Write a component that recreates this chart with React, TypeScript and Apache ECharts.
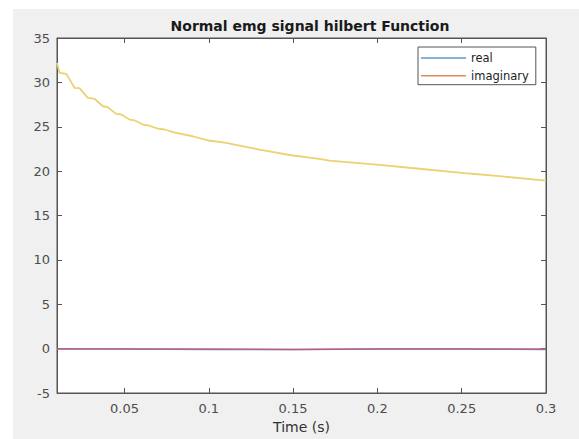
import React, { useEffect, useRef } from "react";
import * as echarts from "echarts";

// ---- data ----
const magTime = [0.0100, 0.0115, 0.0155, 0.0204, 0.0233, 0.0283, 0.0322, 0.0372, 0.0401, 0.0451, 0.0481, 0.0530, 0.0559, 0.0609, 0.0638, 0.0698, 0.0737, 0.0800, 0.0905, 0.1000, 0.1103, 0.1162, 0.1300, 0.1498, 0.1656, 0.1715, 0.2012, 0.2190, 0.2544, 0.2723, 0.3000];
const magValues = [32.2, 31.07, 30.96, 29.39, 29.35, 28.26, 28.15, 27.31, 27.20, 26.45, 26.38, 25.81, 25.73, 25.25, 25.17, 24.80, 24.69, 24.35, 23.93, 23.45, 23.19, 22.95, 22.43, 21.76, 21.39, 21.19, 20.71, 20.38, 19.73, 19.43, 18.92];

const partTime = [0.01, 0.05, 0.1, 0.15, 0.2, 0.25, 0.3];
const realValues = [-0.05, -0.05, -0.1, -0.1, -0.05, -0.05, -0.1];
const imagValues = [-0.02, -0.05, -0.05, -0.1, -0.05, -0.05, -0.05];

const xTicks = [0.05, 0.1, 0.15, 0.2, 0.25, 0.3];
const seriesNames = ["real", "imaginary"];
const titleText = "Normal emg signal hilbert Function";
const xLabel = "Time (s)";

const FONT = "DejaVu Sans, Liberation Sans, Arial, sans-serif";

export default function App() {
  const ref = useRef<HTMLDivElement>(null);
  useEffect(() => {
    if (!ref.current) return;
    const chart = echarts.init(ref.current, null, { renderer: "svg" });
    const pair = (ts: number[], vs: number[]) => ts.map((t, i) => [t, vs[i]]);
    const axisLineStyle = { color: "#555", width: 1 };
    const xBase = {
      type: "value",
      min: 0.01,
      max: 0.3,
      splitLine: { show: false },
      axisLine: { show: true, onZero: false, lineStyle: axisLineStyle },
      axisTick: { show: true, inside: true, length: 5, customValues: xTicks, lineStyle: axisLineStyle },
    };
    const yBase = {
      type: "value",
      min: -5,
      max: 35,
      interval: 5,
      splitLine: { show: false },
      axisLine: { show: true, onZero: false, lineStyle: axisLineStyle },
      axisTick: { show: true, inside: true, length: 5, lineStyle: axisLineStyle },
    };
    chart.setOption({
      animation: false,
      backgroundColor: "#ffffff",
      textStyle: { fontFamily: FONT },
      title: {
        text: titleText,
        left: 305,
        top: 14,
        textAlign: "center",
        textStyle: { fontFamily: FONT, fontSize: 14, fontWeight: "bold", color: "#1a1a1a" },
      },
      graphic: [
        {
          type: "rect",
          z: -100,
          shape: { x: 13, y: 9, width: 566, height: 430 },
          style: { fill: "#f0f0f0" },
          silent: true,
        },
      ],
      grid: {
        left: 57,
        top: 38,
        width: 489,
        height: 355,
        show: true,
        backgroundColor: "#ffffff",
        borderColor: "#555",
        borderWidth: 1,
        containLabel: false,
        outerBoundsMode: "none",
      },
      legend: {
        data: seriesNames,
        orient: "vertical",
        left: 418,
        top: 47,
        padding: [4, 7, 2, 3],
        itemGap: 3.7,
        itemWidth: 45,
        itemHeight: 1.5,
        icon: "rect",
        borderColor: "#555",
        borderWidth: 1,
        backgroundColor: "#ffffff",
        textStyle: { fontFamily: FONT, fontSize: 11.5, color: "#222", lineHeight: 14 },
      },
      xAxis: [
        {
          ...xBase,
          position: "bottom",
          name: xLabel,
          nameLocation: "middle",
          nameGap: 24,
          nameTextStyle: { fontFamily: FONT, fontSize: 14, color: "#333" },
          axisLabel: {
            show: true,
            customValues: xTicks,
            margin: 9,
            fontFamily: FONT,
            fontSize: 13,
            color: "#4d4d4d",
            formatter: (v: number) => String(+v.toFixed(2)),
          },
        },
        { ...xBase, position: "top", axisLabel: { show: false } },
      ],
      yAxis: [
        {
          ...yBase,
          position: "left",
          axisLabel: { show: true, margin: 7, fontFamily: FONT, fontSize: 13, color: "#4d4d4d" },
        },
        { ...yBase, position: "right", axisLabel: { show: false } },
      ],
      series: [
        {
          name: "real",
          type: "line",
          data: pair(partTime, realValues),
          symbol: "none",
          itemStyle: { color: "#5b9bd0" },
          lineStyle: { color: "#6a8fd0", width: 1.5 },
        },
        {
          name: "imaginary",
          type: "line",
          data: pair(partTime, imagValues),
          symbol: "none",
          itemStyle: { color: "#e08a55" },
          lineStyle: { color: "#c9566e", width: 1.6, opacity: 0.85 },
        },
        {
          name: "magnitude",
          type: "line",
          data: pair(magTime, magValues),
          symbol: "none",
          itemStyle: { color: "#e9cf6a" },
          lineStyle: { color: "#ebd272", width: 1.8 },
        },
      ],
    });
    return () => chart.dispose();
  }, []);
  return (
    <div
      ref={ref}
      style={{ position: "absolute", left: 0, top: 0, width: 579, height: 439 }}
    />
  );
}
